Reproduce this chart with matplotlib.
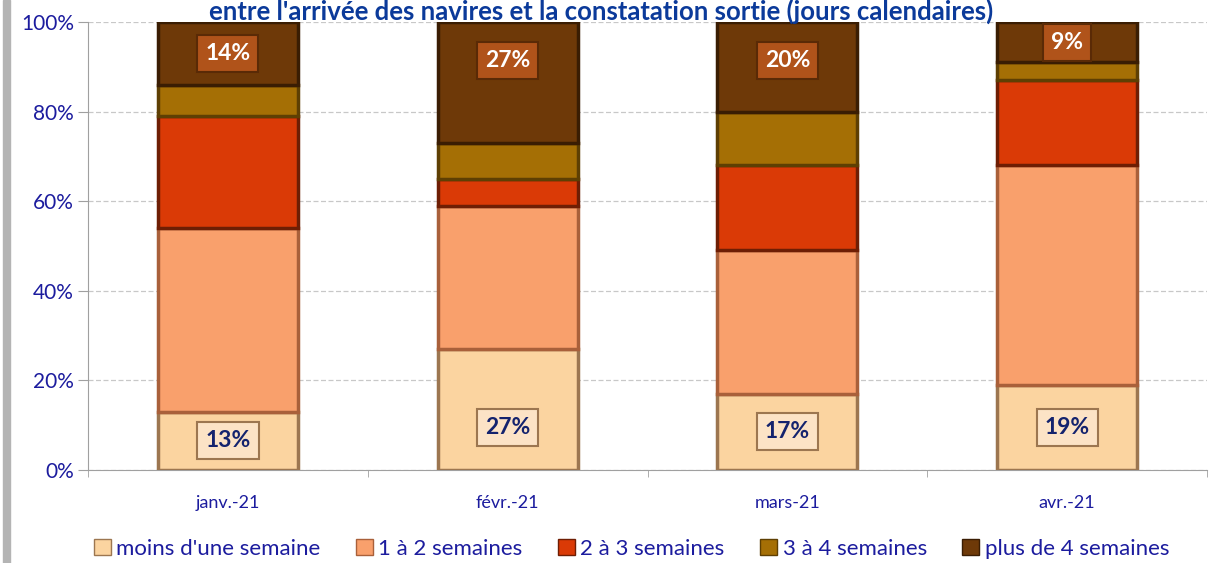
import numpy as np
import matplotlib.pyplot as plt
from matplotlib.patches import Rectangle

# Data (percent of ships per month)
months = ['janv.-21', 'févr.-21', 'mars-21', 'avr.-21']
series_names = ['moins d\'une semaine', '1 à 2 semaines', '2 à 3 semaines',
                '3 à 4 semaines', 'plus de 4 semaines']
moins_1 = [13, 27, 17, 19]
de_1_a_2 = [41, 32, 32, 49]
de_2_a_3 = [25, 6, 19, 19]
de_3_a_4 = [7, 8, 12, 4]
plus_4 = [14, 27, 20, 9]

colors = ['#FBD4A0', '#F9A06C', '#DA3A06', '#A56F05', '#6E3908']
edges = ['#9C7650', '#A9603A', '#6E1E04', '#5E3F03', '#3A1D03']

plt.rcParams['font.family'] = ['Lato', 'DejaVu Sans']
navy = '#1C1C9E'

fig = plt.figure(figsize=(12.1, 5.63), dpi=100)
ax = fig.add_axes([88 / 1210, 93 / 563, 1119 / 1210, 448 / 563])

x = np.arange(len(months))
series = [moins_1, de_1_a_2, de_2_a_3, de_3_a_4, plus_4]
bottom = np.zeros(len(months))
for name, vals, c, ec in zip(series_names, series, colors, edges):
    ax.bar(x, vals, 0.5, bottom=bottom, color=c, edgecolor=ec,
           linewidth=2.5, label=name, zorder=3)
    bottom += np.array(vals)

# data labels: first and last series
for i in range(len(months)):
    v = moins_1[i]
    ax.text(x[i], min(v / 2, 9.5), f'{v}%', ha='center', va='center',
            fontsize=16.5, fontweight='bold', color='#14236E', zorder=5,
            bbox=dict(boxstyle='square,pad=0.35', fc='#FCE3C6', ec='#9C7650', lw=1.5))
    v = plus_4[i]
    ax.text(x[i], max(100 - v / 2, 91.5), f'{v}%', ha='center', va='center',
            fontsize=16.5, fontweight='bold', color='white', zorder=5,
            bbox=dict(boxstyle='square,pad=0.35', fc='#B0531A', ec='#5A2A06', lw=1.5))

ax.set_xlim(-0.5, len(months) - 0.5)
ax.set_ylim(0, 100)
ax.set_yticks(np.arange(0, 101, 20))
ax.set_yticklabels([f'{t}%' for t in range(0, 101, 20)], fontsize=15, color=navy)
ax.set_xticks(x)
ax.set_xticklabels(months, fontsize=13, color=navy)
ax.tick_params(axis='x', length=0, pad=18)
ax.set_xticks(np.arange(-0.5, len(months), 1), minor=True)
ax.tick_params(axis='x', which='minor', length=5, color='#A0A0A0')
ax.tick_params(axis='y', length=7, color='#A0A0A0', pad=3)
ax.grid(axis='y', linestyle=(0, (4, 2)), color='#C8C8C8', linewidth=0.9, zorder=0)
for s in ['top', 'right']:
    ax.spines[s].set_visible(False)
for s in ['left', 'bottom']:
    ax.spines[s].set_color('#A0A0A0')

fig.text(0.497, 1 - 20 / 563, "entre l'arrivée des navires et la constatation sortie (jours calendaires)",
         ha='center', va='baseline', fontsize=18.5, fontweight='bold', color='#0B3A9A')

handles = [Rectangle((0, 0), 1, 1, fc=c, ec=ec, lw=1) for c, ec in zip(colors, edges)]
fig.legend(handles=handles, labels=series_names, loc='center', ncol=5,
           bbox_to_anchor=(0.522, 1 - 549 / 563), frameon=False, fontsize=16,
           labelcolor=navy, handlelength=0.75, handleheight=0.75, handletextpad=0.25,
           columnspacing=1.6)

# grey frame edge on the left
fig.patches.append(Rectangle((3 / 1210, 0), 7 / 1210, 1, transform=fig.transFigure,
                             color='#B4B4B4', zorder=0))

fig.savefig('out.png', dpi=100)
